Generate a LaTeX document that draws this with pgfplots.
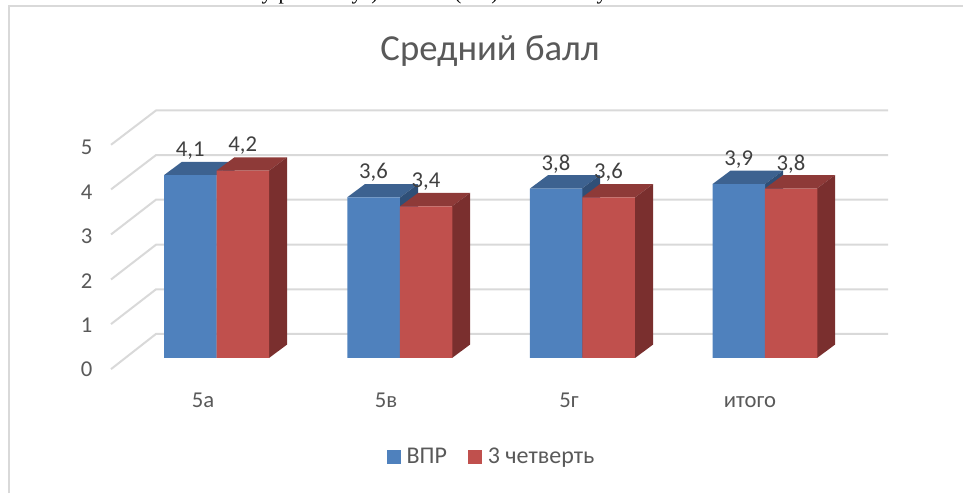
\documentclass[border=0pt]{standalone}
\usepackage{pgfplots}
\usepackage{fontspec}
\pgfplotsset{compat=1.18}
\setmainfont{Carlito}
\newfontfamily\bodyserif{Liberation Serif}

\definecolor{blueFront}{HTML}{4F81BD}
\definecolor{blueTop}{HTML}{3D6290}
\definecolor{blueSide}{HTML}{2F4F77}
\definecolor{redFront}{HTML}{C0504D}
\definecolor{redTop}{HTML}{8E3A38}
\definecolor{redSide}{HTML}{7A2F2E}
\definecolor{wall}{HTML}{D9D9D9}
\definecolor{lab}{HTML}{595959}
\definecolor{vallab}{HTML}{404040}

\begin{document}
\begin{tikzpicture}
\path[use as bounding box] (0,0) rectangle (722.25pt,369.75pt);
\begin{axis}[
    at={(75pt,84.75pt)}, anchor=south west,
    scale only axis, width=591pt, height=262.5pt,
    xmin=100, xmax=888, ymin=-0.4933, ymax=7.354,
    clip=false,
    axis line style={draw=none},
    tick style={draw=none},
    unbounded coords=jump,
    xtick={203,386,569,750},
    xticklabels={5а,5в,5г,итого},
    ytick={-0.26,0.735,1.73,2.725,3.72,4.72},
    yticklabels={0,1,2,3,4,5},
    tick label style={font=\fontsize{17}{20}\selectfont, text=lab},
    x tick label style={yshift=-6pt, text height=11pt, text depth=3pt},
    y tick label style={xshift=-2.25pt},
    title={Средний балл},
    every axis title shift=0pt,
    title style={at={(axis cs:490,6.88)}, anchor=center, font=\fontsize{27.5}{33}\selectfont, text=lab},
    legend columns=2,
    legend style={at={(axis cs:492,-2.22)}, anchor=center, draw=none, fill=none,
        font=\fontsize{18}{21}\selectfont, text=lab, /tikz/every even column/.append style={column sep=14pt}},
    legend image code/.code={\fill[#1] (0pt,-5.25pt) rectangle (10.5pt,5.25pt); \path (12.75pt,0pt);},
    /pgf/number format/.cd, use comma, fixed, fixed zerofill, precision=1, assume math mode=true,
    /pgfplots/.cd,
    nodes near coords,
    every node near coord/.style={font=\fontsize{17}{20}\selectfont, text=vallab, anchor=center, yshift=18.5pt},
]
% frame
\addplot[forget plot, wall, line width=1.5pt, nodes near coords={}] coordinates {(9,-3.03) (9,7.89) (963,7.89)};
% back wall and floor lines
\addplot[forget plot, wall, line width=1.5pt, nodes near coords={}] coordinates {
    (111,-0.25) (156,0.54) (888,0.54) (nan,nan)
    (111,0.76) (156,1.54) (888,1.54) (nan,nan)
    (111,1.76) (156,2.54) (888,2.54) (nan,nan)
    (111,2.77) (156,3.55) (888,3.55) (nan,nan)
    (111,3.78) (156,4.55) (888,4.55) (nan,nan)
    (111,4.78) (156,5.55) (888,5.55)
};
% 5а
\addplot[forget plot, fill=blueTop, draw=none, nodes near coords={}] coordinates {(164,4.1) (182,4.4) (234.5,4.4) (216.5,4.1)} -- cycle;
\addplot[forget plot, fill=blueSide, draw=none, nodes near coords={}] coordinates {(216.5,0) (234.5,0.3) (234.5,4.4) (216.5,4.1)} -- cycle;
\addplot[forget plot, fill=redTop, draw=none, nodes near coords={}] coordinates {(216.5,4.2) (234.5,4.5) (287,4.5) (269,4.2)} -- cycle;
\addplot[forget plot, fill=redSide, draw=none, nodes near coords={}] coordinates {(269,0) (287,0.3) (287,4.5) (269,4.2)} -- cycle;
% 5в
\addplot[forget plot, fill=blueTop, draw=none, nodes near coords={}] coordinates {(347,3.6) (365,3.9) (418,3.9) (400,3.6)} -- cycle;
\addplot[forget plot, fill=blueSide, draw=none, nodes near coords={}] coordinates {(400,0) (418,0.3) (418,3.9) (400,3.6)} -- cycle;
\addplot[forget plot, fill=redTop, draw=none, nodes near coords={}] coordinates {(400,3.4) (418,3.7) (470,3.7) (452,3.4)} -- cycle;
\addplot[forget plot, fill=redSide, draw=none, nodes near coords={}] coordinates {(452,0) (470,0.3) (470,3.7) (452,3.4)} -- cycle;
% 5г
\addplot[forget plot, fill=blueTop, draw=none, nodes near coords={}] coordinates {(530,3.8) (548,4.1) (600,4.1) (582,3.8)} -- cycle;
\addplot[forget plot, fill=blueSide, draw=none, nodes near coords={}] coordinates {(582,0) (600,0.3) (600,4.1) (582,3.8)} -- cycle;
\addplot[forget plot, fill=redTop, draw=none, nodes near coords={}] coordinates {(582,3.6) (600,3.9) (653,3.9) (635,3.6)} -- cycle;
\addplot[forget plot, fill=redSide, draw=none, nodes near coords={}] coordinates {(635,0) (653,0.3) (653,3.9) (635,3.6)} -- cycle;
% итого
\addplot[forget plot, fill=blueTop, draw=none, nodes near coords={}] coordinates {(712.5,3.9) (730.5,4.2) (783,4.2) (765,3.9)} -- cycle;
\addplot[forget plot, fill=blueSide, draw=none, nodes near coords={}] coordinates {(765,0) (783,0.3) (783,4.2) (765,3.9)} -- cycle;
\addplot[forget plot, fill=redTop, draw=none, nodes near coords={}] coordinates {(765,3.8) (783,4.1) (835,4.1) (817,3.8)} -- cycle;
\addplot[forget plot, fill=redSide, draw=none, nodes near coords={}] coordinates {(817,0) (835,0.3) (835,4.1) (817,3.8)} -- cycle;
% front faces, values from the chart
\addplot[ybar, bar shift=0pt, bar width=52.5, fill=blueFront, draw=none] coordinates {(190.25,4.1) (373.5,3.6) (556,3.8) (738.75,3.9)};
\addplot[ybar, bar shift=0pt, bar width=52.5, fill=redFront, draw=none] coordinates {(242.75,4.2) (426,3.4) (608.5,3.6) (791,3.8)};
\legend{ВПР,3 четверть}
% bottoms of the body text line cut off by the top of the picture
\node[anchor=base, font=\bodyserif\fontsize{16}{19}\selectfont, inner sep=0pt] at (axis cs:267,8.04) {у};
\node[anchor=base, font=\bodyserif\fontsize{16}{19}\selectfont, inner sep=0pt] at (axis cs:284,8.04) {р};
\node[anchor=base, font=\bodyserif\fontsize{16}{19}\selectfont, inner sep=0pt] at (axis cs:357,8.04) {у};
\node[anchor=base, font=\bodyserif\fontsize{16}{19}\selectfont, inner sep=0pt] at (axis cs:375,8.04) {)};
\node[anchor=base, font=\bodyserif\fontsize{16}{19}\selectfont, inner sep=0pt] at (axis cs:458,8.04) {(};
\node[anchor=base, font=\bodyserif\fontsize{16}{19}\selectfont, inner sep=0pt] at (axis cs:495,8.04) {)};
\node[anchor=base, font=\bodyserif\fontsize{16}{19}\selectfont, inner sep=0pt] at (axis cs:602,8.04) {у};
\end{axis}
\end{tikzpicture}
\end{document}
